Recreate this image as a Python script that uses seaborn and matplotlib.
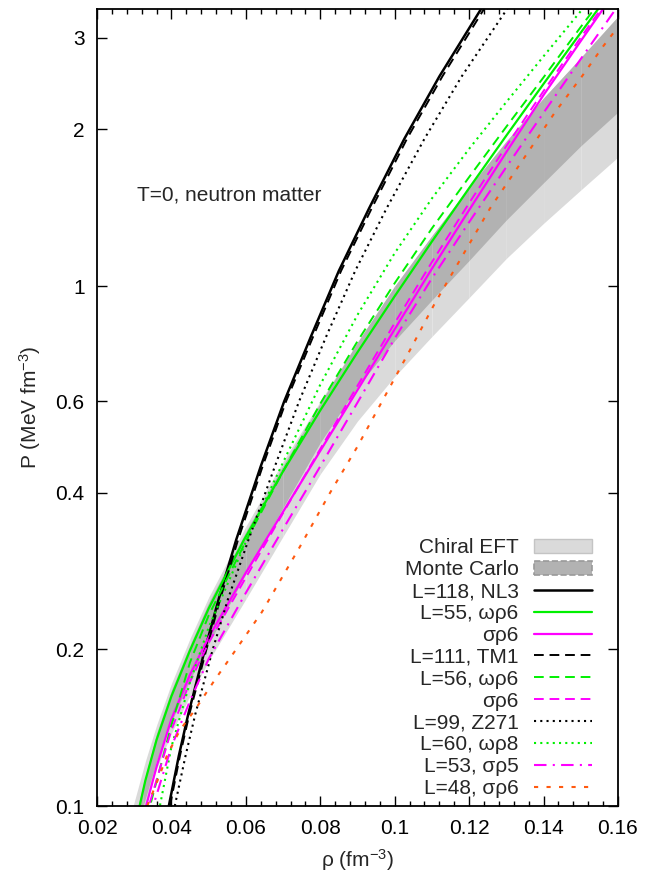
import numpy as np
import matplotlib
matplotlib.use('Agg')
import matplotlib.pyplot as plt
import seaborn as sns
from matplotlib.patches import Patch
from matplotlib.lines import Line2D
from matplotlib.ticker import AutoMinorLocator, NullLocator

# ---- bands ----
chiral_x = [0.029, 0.0297, 0.033, 0.036, 0.04, 0.045, 0.05, 0.06, 0.07, 0.08, 0.09, 0.10, 0.11, 0.12, 0.13, 0.14, 0.15, 0.16]
chiral_hi = [0.094, 0.10, 0.122, 0.143, 0.172, 0.21, 0.252, 0.345, 0.46, 0.60, 0.78, 1.0, 1.25, 1.55, 1.90, 2.30, 2.75, 3.30]
chiral_lo = [0.080, 0.083, 0.101, 0.118, 0.138, 0.163, 0.19, 0.25, 0.33, 0.435, 0.55, 0.67, 0.80, 0.95, 1.13, 1.32, 1.53, 1.77]

mc_x = [0.031, 0.0324, 0.036, 0.04, 0.045, 0.05, 0.06, 0.07, 0.08, 0.09, 0.10, 0.11, 0.12, 0.13, 0.14, 0.15, 0.16]
mc_hi = [0.10, 0.11, 0.138, 0.167, 0.204, 0.246, 0.337, 0.452, 0.595, 0.78, 1.0, 1.25, 1.55, 1.90, 2.30, 2.75, 3.30]
mc_lo = [0.088, 0.10, 0.122, 0.145, 0.175, 0.205, 0.28, 0.375, 0.50, 0.64, 0.785, 0.94, 1.12, 1.34, 1.58, 1.86, 2.16]

# ---- model curves: density (fm^-3) and pressure (MeV fm^-3) ----
nl3_x = [0.0393, 0.0420, 0.0445, 0.0490, 0.0527, 0.0574, 0.0640, 0.0703, 0.0775, 0.0850, 0.0931, 0.1026, 0.1120, 0.1232, 0.1264]
nl3_p = [0.1, 0.125, 0.15, 0.2, 0.25, 0.325, 0.45, 0.6, 0.8, 1.07, 1.41, 1.92, 2.53, 3.41, 3.7]

tm1_x = [0.0396, 0.0423, 0.0448, 0.0494, 0.0531, 0.0579, 0.0645, 0.0708, 0.0781, 0.0856, 0.0938, 0.1033, 0.1128, 0.1240, 0.1272]
tm1_p = nl3_p

z271_x = [0.0409, 0.0438, 0.0464, 0.0511, 0.0552, 0.0607, 0.0678, 0.0743, 0.0816, 0.0894, 0.0978, 0.1080, 0.1180, 0.1302, 0.1335]
z271_p = [0.1, 0.125, 0.15, 0.2, 0.25, 0.325, 0.45, 0.6, 0.8, 1.07, 1.41, 1.92, 2.53, 3.41, 3.7]

w55_x = [0.031, 0.033, 0.036, 0.04, 0.045, 0.05, 0.0595, 0.07, 0.08, 0.09, 0.10, 0.11, 0.12, 0.13, 0.14, 0.15, 0.16]
w55_p = [0.0967, 0.112, 0.134, 0.1626, 0.1993, 0.2397, 0.325, 0.4402, 0.5766, 0.7458, 0.956, 1.218, 1.543, 1.947, 2.448, 3.071, 3.843]

s55_x = [0.0325, 0.0332, 0.036, 0.04, 0.045, 0.05, 0.06, 0.07, 0.08, 0.09, 0.10, 0.11, 0.12, 0.13, 0.14, 0.15, 0.16]
s55_p = [0.095, 0.1, 0.119, 0.147, 0.179, 0.211, 0.281, 0.368, 0.482, 0.631, 0.826, 1.08, 1.40, 1.81, 2.33, 2.96, 3.75]

w56_x = [0.0335, 0.0345, 0.04, 0.045, 0.05, 0.06, 0.07, 0.08, 0.09, 0.10, 0.11, 0.12, 0.13, 0.14, 0.15, 0.16]
w56_p = [0.095, 0.1016, 0.143, 0.189, 0.2325, 0.323, 0.4402, 0.594, 0.783, 1.013, 1.291, 1.62, 2.025, 2.52, 3.15, 3.92]

s56_x = [0.033, 0.034, 0.04, 0.045, 0.05, 0.06, 0.07, 0.08, 0.09, 0.10, 0.11, 0.12, 0.13, 0.14, 0.15, 0.16]
s56_p = [0.095, 0.1004, 0.140, 0.1734, 0.206, 0.275, 0.366, 0.486, 0.643, 0.849, 1.112, 1.444, 1.859, 2.372, 3.007, 3.79]

w60_x = [0.036, 0.0369, 0.04, 0.045, 0.05, 0.06, 0.07, 0.08, 0.09, 0.10, 0.11, 0.12, 0.13, 0.14, 0.15, 0.16]
w60_p = [0.0924, 0.1, 0.130, 0.173, 0.2205, 0.322, 0.458, 0.646, 0.880, 1.157, 1.474, 1.836, 2.259, 2.766, 3.378, 4.08]

s53_x = [0.034, 0.035, 0.04, 0.045, 0.05, 0.06, 0.07, 0.08, 0.09, 0.10, 0.11, 0.12, 0.13, 0.14, 0.15, 0.16]
s53_p = [0.095, 0.0995, 0.130, 0.1594, 0.1918, 0.257, 0.341, 0.450, 0.597, 0.793, 1.035, 1.327, 1.694, 2.154, 2.733, 3.459]

s48_x = [0.0335, 0.0365, 0.0388, 0.0423, 0.0463, 0.0517, 0.0563, 0.0643, 0.0745, 0.0826, 0.0899, 0.0971,
         0.1041, 0.1108, 0.1181, 0.1256, 0.1323, 0.1431, 0.1503, 0.156, 0.160]
s48_p = [0.1, 0.113, 0.125, 0.14, 0.153, 0.175, 0.195, 0.236, 0.315, 0.40, 0.49, 0.609,
         0.753, 0.927, 1.14, 1.41, 1.66, 2.16, 2.53, 2.89, 3.15]

sns.set_style('ticks')
plt.rcParams['font.family'] = ['Liberation Sans', 'DejaVu Sans']
plt.rcParams['mathtext.default'] = 'regular'
fs = 15

fig = plt.figure(figsize=(6.45, 8.77), dpi=100)
ax = fig.add_axes([97 / 645, 1 - 806 / 877, 521 / 645, 797 / 877])

light = '#dadada'
dark = '#b2b2b2'
# bands drawn piece by piece (gives the faint seams seen in the original)
for i in range(len(chiral_x) - 1):
    ax.fill_between(chiral_x[i:i + 2], chiral_lo[i:i + 2], chiral_hi[i:i + 2], color=light, lw=0)
for i in range(len(mc_x) - 1):
    ax.fill_between(mc_x[i:i + 2], mc_lo[i:i + 2], mc_hi[i:i + 2], color=dark, lw=0)

green = '#00f000'
mag = '#ff00ff'
orng = '#ff5a10'
dash = (0, (5, 3))
curves = [
    ('L=118, NL3', nl3_x, nl3_p, 'black', '-', 1.8),
    ('L=55, ωρ6', w55_x, w55_p, green, '-', 1.6),
    ('σρ6', s55_x, s55_p, mag, '-', 1.6),
    ('L=111, TM1', tm1_x, tm1_p, 'black', dash, 1.4),
    ('L=56, ωρ6', w56_x, w56_p, green, dash, 1.4),
    ('σρ6', s56_x, s56_p, mag, dash, 1.4),
    ('L=99, Z271', z271_x, z271_p, 'black', (0, (1, 2)), 1.5),
    ('L=60, ωρ8', w60_x, w60_p, green, (0, (1, 2)), 1.5),
    ('L=53, σρ5', s53_x, s53_p, mag, (0, (6, 3, 1, 3)), 1.5),
    ('L=48, σρ6', s48_x, s48_p, orng, (0, (2, 4)), 1.5),
]

handles = [Patch(facecolor=light, edgecolor='#c4c4c4', lw=1.0),
           Patch(facecolor=dark, edgecolor='#999999', lw=1.2, linestyle='--')]
labels = ['Chiral EFT', 'Monte Carlo']
for lab, x, p, c, ls, lw in curves:
    sns.lineplot(x=x, y=p, ax=ax, color=c, linestyle=ls, linewidth=lw,
                 sort=False, estimator=None)
    handles.append(Line2D([], [], color=c, linestyle=ls, linewidth=lw))
    labels.append(lab)

ax.set_yscale('log')
ax.set_xlim(0.02, 0.16)
ax.set_ylim(0.1, 3.41)
ax.set_yticks([0.1, 0.2, 0.4, 0.6, 1, 2, 3])
ax.set_yticklabels(['0.1', '0.2', '0.4', '0.6', '1', '2', '3'])
ax.yaxis.set_minor_locator(NullLocator())
xt = [0.02, 0.04, 0.06, 0.08, 0.1, 0.12, 0.14, 0.16]
ax.set_xticks(xt)
ax.set_xticklabels(['0.02', '0.04', '0.06', '0.08', '0.1', '0.12', '0.14', '0.16'])
ax.xaxis.set_minor_locator(AutoMinorLocator(5))
ax.tick_params(which='both', direction='in', top=True, right=True, width=1, colors='black')
ax.tick_params(which='major', length=7, labelsize=fs, pad=9)
ax.tick_params(which='minor', length=3.5)
for s in ax.spines.values():
    s.set_linewidth(1.3)
    s.set_color('black')

ax.set_xlabel('ρ (fm$^{-3}$)', fontsize=fs, labelpad=7)
ax.set_ylabel('P (MeV fm$^{-3}$)', fontsize=fs, labelpad=9)
ax.text(0.077, 0.767, 'T=0, neutron matter', transform=ax.transAxes, fontsize=fs, va='center')

leg = ax.legend(handles, labels, loc='lower right', bbox_to_anchor=(0.974, -0.006),
                frameon=False, markerfirst=False, fontsize=fs, handlelength=2.8,
                labelspacing=0.14, handletextpad=0.72, borderaxespad=0.2)
for col in leg._legend_box._children[1]._children:
    col.align = 'right'

fig.savefig('out.png', dpi=100)
